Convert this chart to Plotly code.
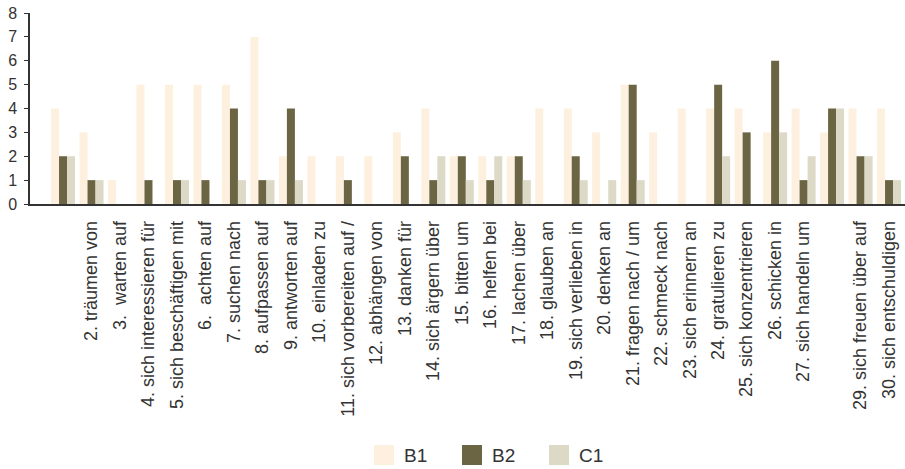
import plotly.graph_objects as go

# Verb + preposition items (1..30); items 1 and 28 carry no axis label
positions = list(range(1, 31))
tick_labels = [
    "", "2. träumen von", "3.  warten auf", "4. sich interessieren für",
    "5. sich beschäftigen mit", "6.  achten auf", "7. suchen nach",
    "8. aufpassen auf", "9. antworten auf", "10. einladen zu",
    "11. sich vorbereiten auf /", "12. abhängen von", "13. danken für",
    "14. sich ärgern über", "15. bitten um", "16. helfen bei",
    "17. lachen über", "18. glauben an", "19. sich verlieben in",
    "20. denken an", "21. fragen nach / um", "22. schmeck nach",
    "23. sich erinnern an", "24. gratulieren zu", "25. sich konzentrieren",
    "26. schicken in", "27. sich handeln um", "",
    "29. sich freuen über auf", "30. sich entschuldigen",
]

b1 = [4, 3, 1, 5, 5, 5, 5, 7, 2, 2, 2, 2, 3, 4, 2, 2, 2, 4, 4, 3,
      5, 3, 4, 4, 4, 3, 4, 3, 4, 4]
b2 = [2, 1, 0, 1, 1, 1, 4, 1, 4, 0, 1, 0, 2, 1, 2, 1, 2, 0, 2, 0,
      5, 0, 0, 5, 3, 6, 1, 4, 2, 1]
c1 = [2, 1, 0, 0, 1, 0, 1, 1, 1, 0, 0, 0, 0, 2, 1, 2, 1, 0, 1, 1,
      1, 0, 0, 2, 0, 3, 2, 4, 2, 1]

series = [("B1", b1, "#FDF0DE"), ("B2", b2, "#6B6543"), ("C1", c1, "#DCD9C7")]

fig = go.Figure()
for name, vals, color in series:
    fig.add_trace(go.Bar(
        x=positions, y=vals, name=name, marker_color=color,
        marker_line_width=0, showlegend=False,
    ))

text_col = "#333333"
font_family = "Liberation Sans, Arial, sans-serif"

# Legend drawn as large swatches with labels below the plot
legend_items = [("B1", "#FDF0DE", 374), ("B2", "#6B6543", 462), ("C1", "#DCD9C7", 549)]
L, R, T, B = 30, 0, 13, 265
W, H = 905, 469
pw, ph = W - L - R, H - T - B
shapes = []
annotations = []
for name, color, px in legend_items:
    x0 = (px - L) / pw
    x1 = (px + 20 - L) / pw
    y0 = (H - B - 445) / ph
    y1 = (H - B - 465) / ph
    shapes.append(dict(type="rect", xref="paper", yref="paper",
                       x0=x0, x1=x1, y0=y1, y1=y0,
                       fillcolor=color, line_width=0))
    annotations.append(dict(xref="paper", yref="paper",
                            x=(px + 28 - L) / pw, y=(y0 + y1) / 2,
                            text=name, showarrow=False,
                            xanchor="left", yanchor="middle",
                            font=dict(size=19, color=text_col, family=font_family)))

fig.update_layout(
    width=W, height=H,
    margin=dict(l=L, r=R, t=T, b=B),
    paper_bgcolor="white", plot_bgcolor="white",
    barmode="group", bargap=0.157, bargroupgap=0,
    font=dict(family=font_family, color=text_col, size=15),
    shapes=shapes, annotations=annotations,
    xaxis=dict(
        range=[-0.16, 30.56],
        tickmode="array", tickvals=positions, ticktext=tick_labels,
        tickangle=-90, showgrid=False, zeroline=False,
        showline=True, linecolor="#333333", linewidth=1.5,
        ticks="", ticklabelstandoff=8,
        tickfont=dict(size=18, color=text_col),
    ),
    yaxis=dict(
        range=[0, 8], dtick=1, showgrid=False, zeroline=False,
        showline=True, linecolor="#333333", linewidth=1.5,
        ticks="outside", ticklen=4, tickcolor="#333333",
        ticklabelstandoff=4,
        tickfont=dict(size=16, color=text_col),
    ),
)

fig.write_html("out.html")
